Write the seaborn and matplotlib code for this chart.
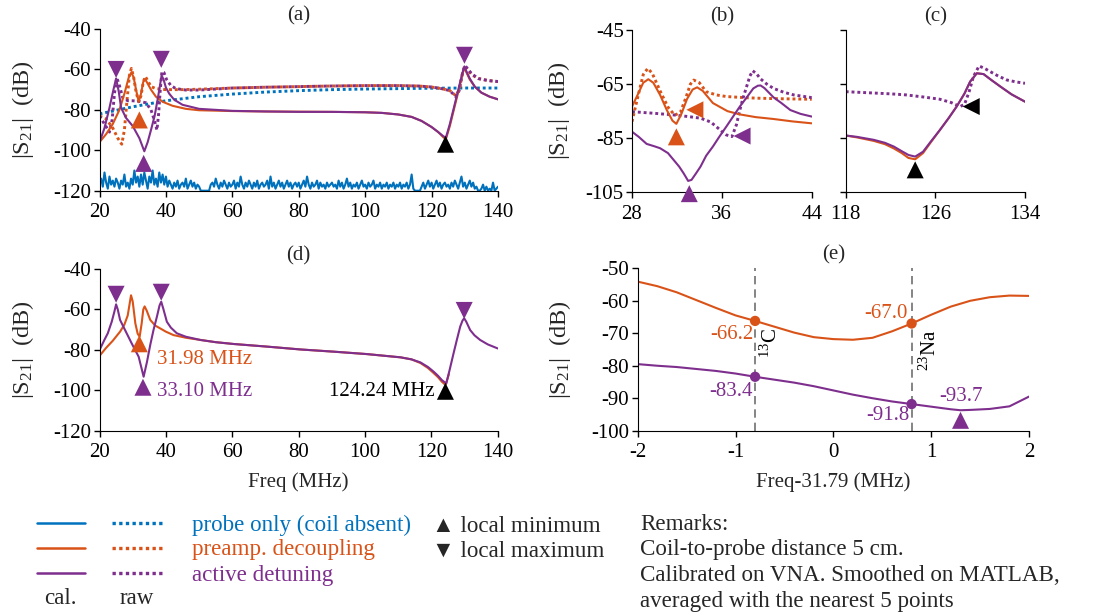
import matplotlib
matplotlib.use("Agg")
import matplotlib.pyplot as plt
import seaborn as sns
import numpy as np
from matplotlib.lines import Line2D

BLUE = "#0072BD"
ORANGE = "#D95319"
PURPLE = "#7E2F8E"

# ---------------- (a) full sweep, cal. and raw ----------------
a_probe_raw_f = [20, 30, 40, 50, 60, 70, 80, 90, 100, 110, 120, 130, 140]
a_probe_raw = [-82, -78.5, -75.5, -73.5, -72.2, -71.2, -70.5, -70, -69.7, -69.5, -69.3, -69.2, -69.2]

a_probe_cal_f = np.arange(20, 140.5, 0.5)
a_probe_cal = [
    -117, -114, -118, -111, -116, -119, -113, -117, -115, -118, -114, -116, -119, -115, -117, -112, -118, -116, -119, -114,
    -117, -110, -116, -113, -118, -112, -117, -111, -115, -119, -113, -116, -110, -117, -114, -118, -111, -116, -112, -117,
    -113, -118, -115, -117, -119, -116, -118, -115, -119, -117, -116, -118, -114, -119, -117, -115, -118, -116, -119, -117,
    -118, -120, -120, -120, -120, -120, -120, -117, -116, -118, -114, -117, -119, -116, -118, -115, -117, -119, -116, -118,
    -117, -115, -119, -116, -118, -113, -117, -119, -116, -118, -115, -117, -119, -116, -118, -115, -119, -117, -116, -118,
    -117, -115, -119, -113, -118, -116, -119, -117, -115, -118, -116, -119, -117, -115, -118, -116, -119, -117, -116, -118,
    -116, -119, -117, -115, -118, -113, -117, -119, -116, -118, -117, -115, -119, -116, -118, -117, -119, -116, -118, -117,
    -116, -118, -117, -119, -115, -118, -116, -119, -117, -114, -118, -116, -119, -117, -118, -116, -119, -117, -115, -118,
    -117, -119, -116, -118, -117, -115, -119, -117, -118, -116, -119, -117, -118, -116, -119, -117, -118, -116, -119, -117,
    -118, -116, -119, -117, -118, -116, -119, -117, -112, -119, -120, -120, -120, -120, -118, -116, -119, -117, -115, -118,
    -116, -119, -117, -115, -118, -116, -119, -117, -116, -118, -117, -119, -116, -118, -115, -117, -119, -116, -113, -118,
    -116, -119, -117, -115, -118, -116, -119, -118, -120, -120, -119, -117, -120, -118, -120, -119, -120, -116, -120, -119,
    -118,
]

a_pre_cal_f = [20, 22, 24, 26, 27.5, 28.8, 29.6, 30.3, 31, 31.8, 32.5, 33.2, 33.8, 34.5, 35.5, 37, 39, 42, 46, 50,
               60, 70, 80, 90, 100, 105, 110, 114, 117, 120, 122, 123.5, 124.3, 125.5, 127, 128.5, 129.5, 129.9,
               130.5, 131.5, 133, 135, 137.5, 140]
a_pre_cal = [-96, -92, -87, -80, -72, -64, -61.5, -64, -70, -76, -72, -66, -65, -67, -70, -73.5, -76, -78, -79.5, -80.2,
             -80.6, -80.8, -80.9, -81, -81.2, -81.5, -82.3, -83.5, -85.5, -88.5, -91, -93.5, -94.5, -88, -78, -68, -61,
             -59, -61.5, -65, -68.5, -71.5, -73.5, -74.8]

a_act_cal_f = [20, 21.5, 23, 24.2, 25, 25.8, 26.5, 28, 30, 32, 33.5, 34.5, 35.5, 36.6, 37.6, 38.3, 38.7, 39.3, 40, 41,
               42.5, 45, 50, 60, 70, 80, 90, 100, 105, 110, 114, 117, 120, 122, 123.5, 124.3, 125.5, 127, 128.5, 129.5,
               129.9, 130.5, 131.5, 133, 135, 137.5, 140]
a_act_cal = [-96, -89, -79, -70, -64.5, -71, -79, -84, -88, -94, -100.5, -96, -90, -83, -74, -67, -63, -65, -69, -72,
             -75, -77.5, -79.5, -80.5, -80.8, -81, -81, -81.2, -81.5, -82.3, -83.5, -85.5, -88.5, -91, -93, -93.8, -87,
             -77, -67, -60.5, -58.5, -61, -64.5, -68.5, -71.5, -73.5, -74.8]

a_pre_raw_f = [20, 22, 24, 25.5, 26.7, 27.5, 28.3, 29, 29.6, 30.3, 31, 31.8, 32.5, 33.2, 33.8, 34.5, 35.5, 37, 40, 45,
               50, 60, 70, 80, 90, 100, 110, 116, 120, 123, 125.5, 127.3, 128.3, 129.3, 130, 130.8, 132, 134, 137, 140]
a_pre_raw = [-83, -84.5, -89, -94, -97, -90, -75, -63, -59.5, -64, -71, -76, -73, -66, -63.5, -65.5, -68.5, -69.5, -70,
             -70, -69.8, -69.2, -68.8, -68.5, -68.2, -68, -68, -68.2, -68.7, -69.5, -70.5, -73, -70, -62, -58.5, -60,
             -62.5, -64.5, -65.5, -66]

a_act_raw_f = [20, 21.5, 23, 23.8, 24.5, 25.2, 26, 27, 28.5, 30, 32, 34, 35.5, 36.5, 37.3, 37.8, 38.3, 38.8, 39.4,
               40.2, 41.5, 43, 46, 50, 60, 70, 80, 90, 100, 110, 116, 120, 123, 125.5, 127.3, 128.3, 129.3, 130,
               130.8, 132, 134, 137, 140]
a_act_raw = [-83, -87, -91, -85, -72, -64, -68, -74, -75.5, -75.5, -75.8, -76.5, -80, -85, -90, -82, -70, -61, -61.5,
             -65, -68, -69.5, -70.2, -70.2, -69.2, -68.8, -68.5, -68.2, -68, -68, -68.2, -68.7, -69.5, -70.5, -73.5,
             -70.5, -62, -58, -59.5, -62, -64.5, -65.5, -66]

a_max_f, a_max = [25, 38.6, 129.9], [-60, -55, -53]
a_min_pre_f, a_min_pre = [32.0], [-85]
a_min_act_f, a_min_act = [33.3], [-106.5]
a_min_blk_f, a_min_blk = [124.2], [-97]

# ---------------- (b) zoom 28-44 MHz ----------------
b_pre_cal_f = [28, 28.5, 29, 29.45, 29.9, 30.5, 31.1, 31.6, 31.95, 32.4, 32.9, 33.4, 33.8, 34.3, 35.2, 36.5, 37.6, 39,
               40.6, 42.3, 44]
b_pre_cal = [-73.3, -69, -64.5, -63.2, -64.5, -69, -74.6, -78.5, -79.7, -76, -70.5, -67, -66.2, -67.5, -72, -75, -76.2,
             -77.2, -77.9, -78.8, -79.5]
b_pre_raw_f = [28, 28.5, 29, 29.4, 29.8, 30.5, 31.2, 31.8, 32.3, 32.8, 33.2, 33.5, 34, 34.6, 35.5, 36.4, 38, 39.1, 41, 44]
b_pre_raw = [-78.9, -70, -61.5, -59.2, -61, -67.5, -73.5, -76.5, -75.5, -70, -65, -63.5, -64.5, -67.8, -69, -69.6, -70,
             -70.2, -70.4, -70.6]
b_act_raw_f = [28, 30, 31.7, 33, 34.1, 35, 35.5, 36, 36.4, 36.9, 37.3, 37.6, 37.9, 38.2, 38.5, 38.75, 39.1, 39.4, 40,
               40.6, 41.5, 42.4, 44]
b_act_raw = [-75.2, -75.8, -76.4, -77, -77.6, -79, -80.7, -82.5, -83.8, -84.4, -80, -74.6, -70, -66, -62, -60.1, -61.2,
             -62.9, -65, -66.6, -68, -69, -70]
b_act_cal_f = [28, 28.6, 29.3, 30, 30.5, 31.2, 31.7, 32.2, 32.6, 33.0, 33.3, 33.7, 34.1, 34.6, 35.2, 35.8, 36.4, 37,
               37.6, 38.2, 38.8, 39.2, 39.45, 39.8, 40.6, 41.3, 42.1, 43, 44]
b_act_cal = [-82.6, -84.5, -87.1, -88, -88.7, -90.5, -93, -95.5, -98, -100.8, -100.4, -98, -95.5, -91.5, -88.1, -84.3,
             -80.7, -77, -73.3, -70, -66.6, -65.6, -65.5, -66.5, -69.9, -72, -74.6, -76, -77]
b_min_pre_f, b_min_pre = [31.95], [-84.5]
b_min_act_f, b_min_act = [33.1], [-105.5]
b_left_pre_f, b_left_pre = [33.6], [-74.5]
b_left_act_f, b_left_act = [37.8], [-84.2]

# ---------------- (c) zoom 118-134 MHz ----------------
c_act_raw_f = [118, 120, 122, 123.4, 125, 126.4, 127.4, 128.2, 128.6, 129, 129.4, 129.9, 130.4, 130.9, 131.6, 132.4,
               133.2, 134]
c_act_raw = [-67.8, -68.2, -68.6, -69, -69.8, -70.6, -71.8, -73.3, -72.5, -68, -62.2, -58.3, -59.2, -60.4, -62, -63.5,
             -64.2, -64.7]
c_cal_f = [118, 119, 120.5, 121.5, 122.3, 123, 123.6, 124.2, 124.9, 125.6, 126.4, 127.2, 127.9, 128.6, 129.1, 129.7,
           130.3, 131, 131.8, 132.8, 134]
c_act_cal = [-84, -84.5, -85.6, -86.7, -88.1, -89.8, -91.2, -91.8, -90, -86.2, -82, -77.5, -73.3, -68.5, -64.1, -61,
             -61.3, -63.5, -65.9, -68.8, -71.5]
c_pre_cal = [-84, -84.7, -86, -87.2, -88.8, -90.5, -92.3, -92.8, -90.5, -86.5, -82, -77.5, -73.3, -68.5, -64.1, -61,
             -61.3, -63.5, -65.9, -68.8, -71.5]
c_min_f, c_min = [124.2], [-96.7]
c_left_f, c_left = [129.2], [-73.3]

# ---------------- (d) full sweep, cal. ----------------
d_act_cal_f = [20, 21.5, 22.5, 23.7, 24.5, 25, 25.5, 26.2, 27.7, 29.7, 31.8, 33.3, 34.3, 35.3, 36.3, 37.3, 38.1, 38.6,
               39.2, 40.3, 41.5, 43.3, 46, 50.4, 55, 60.4, 70.5, 80.5, 90.6, 100.6, 105, 110.7, 114, 116.7, 119, 120.7,
               122, 123.2, 124.5, 125.5, 126.7, 127.7, 128.7, 129.4, 129.9, 130.5, 131.7, 133, 134.7, 137, 140]
d_act_cal = [-80.1, -75, -71.8, -66, -61, -57.5, -60, -65.2, -70.2, -76.8, -83.4, -93.3, -86, -77.5, -70, -63.6, -58,
             -56.2, -59.5, -66.1, -69, -71.8, -73.5, -75.1, -76.2, -77.1, -78.4, -79.8, -80.9, -82.1, -82.8, -83.7,
             -84.7, -86.2, -88.5, -90.8, -92.8, -95, -96.6, -90, -81.7, -75, -68.5, -65.5, -64.4, -66, -70.2, -72.8,
             -75.1, -77.3, -79.3]
d_pre_cal_f = [20, 22, 24, 26.2, 27.5, 28.5, 29.1, 29.5, 30, 30.8, 31.5, 32.1, 32.7, 33.2, 33.6, 34.2, 35.3, 36.8, 38.3,
               40, 42.3, 46, 50.4, 55, 60.4, 70.5, 80.5, 90.6, 100.6, 105, 110.7, 114, 116.7, 119, 120.7, 122, 123.2,
               124.3, 125.3]
d_pre_cal = [-83, -79, -75.5, -71, -67.5, -63, -57, -53, -56, -66.9, -72, -73.5, -67, -60, -58.5, -60.5, -65.2, -68,
             -69.4, -71, -72.7, -74, -75.1, -76.2, -77.1, -78.4, -79.8, -80.9, -82.1, -82.8, -83.7, -84.7, -86.5, -89,
             -91.5, -93.5, -95.8, -97.4, -92]
d_max_f, d_max = [25, 38.6, 129.9], [-52.5, -51.5, -60.5]
d_min_pre_f, d_min_pre = [32.0], [-77]
d_min_act_f, d_min_act = [33.1], [-98.5]
d_min_blk_f, d_min_blk = [124.24], [-100.5]

# ---------------- (e) around 31.79 MHz ----------------
e_x = [-2, -1.8, -1.6, -1.4, -1.2, -1.0, -0.8, -0.6, -0.4, -0.2, 0, 0.2, 0.4, 0.6, 0.8, 1.0, 1.2, 1.4, 1.6, 1.8, 2.0]
e_pre = [-54.1, -55.5, -57.4, -59.8, -62.2, -64.5, -66.2, -68, -69.8, -71.2, -71.8, -72, -71.4, -69.4, -67.0, -64.3,
         -61.8, -60, -58.9, -58.4, -58.5]
e_act_x = [-2, -1.8, -1.6, -1.4, -1.2, -1.0, -0.8, -0.6, -0.4, -0.2, 0, 0.2, 0.4, 0.6, 0.8, 1.0, 1.2, 1.3, 1.4, 1.6,
           1.8, 2.0]
e_act = [-79.5, -80, -80.4, -81, -81.6, -82.4, -83.4, -84.3, -85.2, -86.3, -87.6, -88.9, -90, -91, -91.8, -92.6, -93.4,
         -93.7, -93.6, -93.3, -92.5, -89.5]
e_nuclei_x = [-0.8, 0.8]
e_pre_pts = [-66.2, -67.0]
e_act_pts = [-83.4, -91.8]
e_min_x, e_min = [1.3], [-96.8]

# ---------------- style ----------------
sns.set_style("ticks")
plt.rcParams["font.family"] = ["Liberation Serif", "DejaVu Sans"]
plt.rcParams["mathtext.fontset"] = "custom"
plt.rcParams["mathtext.rm"] = "Liberation Serif"
plt.rcParams["mathtext.default"] = "regular"
plt.rcParams["axes.unicode_minus"] = False
FS = 15
LFS = 16.6

W, H = 1099, 612
fig = plt.figure(figsize=(W / 100, H / 100), dpi=100)


def box(l, t, r, b):
    return [l / W, 1 - b / H, (r - l) / W, (b - t) / H]


def curve(ax, x, y, color, dotted=False, z=2):
    sns.lineplot(x=x, y=y, ax=ax, color=color, estimator=None, sort=False,
                 linewidth=2.1 if dotted else 1.5,
                 linestyle=(0, (1, 1)) if dotted else "-", zorder=z)


def marks(ax, x, y, marker, color, s=150):
    sns.scatterplot(x=x, y=y, ax=ax, marker=marker, s=s, color=color, edgecolor="none",
                    linewidth=0, clip_on=False, zorder=6, legend=False)


def style(ax, xlim, ylim, xticks, yticks, title, ylabels=True):
    ax.set_xlim(xlim)
    ax.set_ylim(ylim)
    ax.set_xticks(xticks)
    ax.set_yticks(yticks)
    ax.set_xlabel("")
    ax.set_ylabel("")
    ax.tick_params(axis="both", direction="out", length=4, width=1, colors="black", labelsize=FS)
    ax.tick_params(axis="x", pad=5)
    ax.tick_params(axis="y", pad=2, labelleft=ylabels)
    for sp in ax.spines.values():
        sp.set_color("black")
    sns.despine(ax=ax)
    ax.set_title(title, fontsize=FS, pad=6)


YLAB = "|S$_{21}$|  (dB)"
YFS = 17.5

# (a)
ax = fig.add_axes(box(99.5, 29, 498, 190.7))
curve(ax, a_probe_cal_f, a_probe_cal, BLUE)
curve(ax, a_probe_raw_f, a_probe_raw, BLUE, dotted=True)
curve(ax, a_pre_raw_f, a_pre_raw, ORANGE, dotted=True)
curve(ax, a_act_raw_f, a_act_raw, PURPLE, dotted=True)
curve(ax, a_pre_cal_f, a_pre_cal, ORANGE)
curve(ax, a_act_cal_f, a_act_cal, PURPLE)
marks(ax, a_max_f, a_max, "v", PURPLE)
marks(ax, a_min_pre_f, a_min_pre, "^", ORANGE)
marks(ax, a_min_act_f, a_min_act, "^", PURPLE)
marks(ax, a_min_blk_f, a_min_blk, "^", "black")
style(ax, (20, 140), (-120, -40), range(20, 141, 20), range(-120, -39, 20), "(a)")
ax.set_ylabel(YLAB, fontsize=YFS)
ax.yaxis.set_label_coords(-0.16, 0.5)

# (b)
ax = fig.add_axes(box(632, 30, 811.7, 192.3))
curve(ax, b_pre_raw_f, b_pre_raw, ORANGE, dotted=True)
curve(ax, b_act_raw_f, b_act_raw, PURPLE, dotted=True)
curve(ax, b_pre_cal_f, b_pre_cal, ORANGE)
curve(ax, b_act_cal_f, b_act_cal, PURPLE)
marks(ax, b_min_pre_f, b_min_pre, "^", ORANGE)
marks(ax, b_min_act_f, b_min_act, "^", PURPLE)
marks(ax, b_left_pre_f, b_left_pre, "<", ORANGE)
marks(ax, b_left_act_f, b_left_act, "<", PURPLE)
style(ax, (28, 44), (-105, -45), [28, 36, 44], [-105, -85, -65, -45], "(b)")
ax.set_ylabel(YLAB, fontsize=YFS)
ax.yaxis.set_label_coords(-0.335, 0.5)

# (c)
ax = fig.add_axes(box(845.7, 30, 1025, 192.3))
curve(ax, c_act_raw_f, c_act_raw, PURPLE, dotted=True)
curve(ax, c_cal_f, c_pre_cal, ORANGE)
curve(ax, c_cal_f, c_act_cal, PURPLE)
marks(ax, c_min_f, c_min, "^", "black")
marks(ax, c_left_f, c_left, "<", "black")
style(ax, (118, 134), (-105, -45), [118, 126, 134], [-105, -85, -65, -45], "(c)", ylabels=False)

# (d)
ax = fig.add_axes(box(99.5, 269, 497.7, 430.7))
curve(ax, d_pre_cal_f, d_pre_cal, ORANGE)
curve(ax, d_act_cal_f, d_act_cal, PURPLE)
marks(ax, d_max_f, d_max, "v", PURPLE)
marks(ax, d_min_pre_f, d_min_pre, "^", ORANGE)
marks(ax, d_min_act_f, d_min_act, "^", PURPLE)
marks(ax, d_min_blk_f, d_min_blk, "^", "black")
ax.text(37.3, -85, "31.98 MHz", color=ORANGE, fontsize=FS, ha="left", va="center")
ax.text(37.3, -100.5, "33.10 MHz", color=PURPLE, fontsize=FS, ha="left", va="center")
ax.text(121, -100.5, "124.24 MHz", color="black", fontsize=FS, ha="right", va="center")
style(ax, (20, 140), (-120, -40), range(20, 141, 20), range(-120, -39, 20), "(d)")
ax.set_ylabel(YLAB, fontsize=YFS)
ax.yaxis.set_label_coords(-0.16, 0.5)
ax.set_xlabel("Freq (MHz)", fontsize=FS)
ax.xaxis.set_label_coords(0.5, -0.255)

# (e)
ax = fig.add_axes(box(637.7, 268.3, 1029, 430.7))
for xv in e_nuclei_x:
    ax.axvline(xv, color="#707070", linestyle=(0, (5, 3)), linewidth=1.2, zorder=1)
curve(ax, e_x, e_pre, ORANGE)
curve(ax, e_act_x, e_act, PURPLE)
marks(ax, e_nuclei_x, e_pre_pts, "o", ORANGE, s=55)
marks(ax, e_nuclei_x, e_act_pts, "o", PURPLE, s=55)
marks(ax, e_min_x, e_min, "^", PURPLE)
ax.text(-0.82, -70.4, "-66.2", color=ORANGE, fontsize=FS, ha="right", va="center")
ax.text(0.76, -63.9, "-67.0", color=ORANGE, fontsize=FS, ha="right", va="center")
ax.text(-0.82, -88, "-83.4", color=PURPLE, fontsize=FS, ha="right", va="center")
ax.text(0.78, -95.2, "-91.8", color=PURPLE, fontsize=FS, ha="right", va="center")
ax.text(1.3, -89.6, "-93.7", color=PURPLE, fontsize=FS, ha="center", va="center")
ax.text(-0.64, -73.1, "$^{13}$C", color="black", fontsize=FS, rotation=90, ha="center", va="center")
ax.text(0.99, -75.2, "$^{23}$Na", color="black", fontsize=FS, rotation=90, ha="center", va="center")
style(ax, (-2, 2), (-100, -50), [-2, -1, 0, 1, 2], range(-100, -49, 10), "(e)")
ax.set_ylabel(YLAB, fontsize=YFS)
ax.yaxis.set_label_coords(-0.165, 0.5)
ax.set_xlabel("Freq-31.79 (MHz)", fontsize=FS)
ax.xaxis.set_label_coords(0.5, -0.255)

# ---------------- bottom legend ----------------
def fx(x):
    return x / W


def fy(y):
    return 1 - y / H


legend_labels = ["probe only (coil absent)", "preamp. decoupling", "active detuning"]
legend_colors = [BLUE, ORANGE, PURPLE]
for i, (lab, col) in enumerate(zip(legend_labels, legend_colors)):
    yy = 523 + 25 * i
    fig.add_artist(Line2D([fx(37), fx(85)], [fy(yy), fy(yy)], color=col, linewidth=1.8))
    fig.add_artist(Line2D([fx(112), fx(162)], [fy(yy), fy(yy)], color=col, linewidth=2.4,
                          linestyle=(0, (1, 1))))
    fig.text(fx(192), fy(yy + 2), lab, color=col, fontsize=LFS, ha="left", va="center")
fig.text(fx(60), fy(599), "cal.", fontsize=LFS, ha="center", va="center")
fig.text(fx(137), fy(599), "raw", fontsize=LFS, ha="center", va="center")

fig.text(fx(432), fy(526), "▲ local minimum", fontsize=LFS, ha="left", va="center")
fig.text(fx(432), fy(551), "▼ local maximum", fontsize=LFS, ha="left", va="center")

# remarks block, last line kept just inside the bottom edge
remarks = ["Remarks:", "Coil-to-probe distance 5 cm.", "Calibrated on VNA. Smoothed on MATLAB,",
           "averaged with the nearest 5 points"]
for i, line in enumerate(remarks):
    fig.text(fx(640), fy(530 + 25.5 * i), line, fontsize=LFS, ha="left", va="baseline")

fig.savefig("out.png", dpi=100)
